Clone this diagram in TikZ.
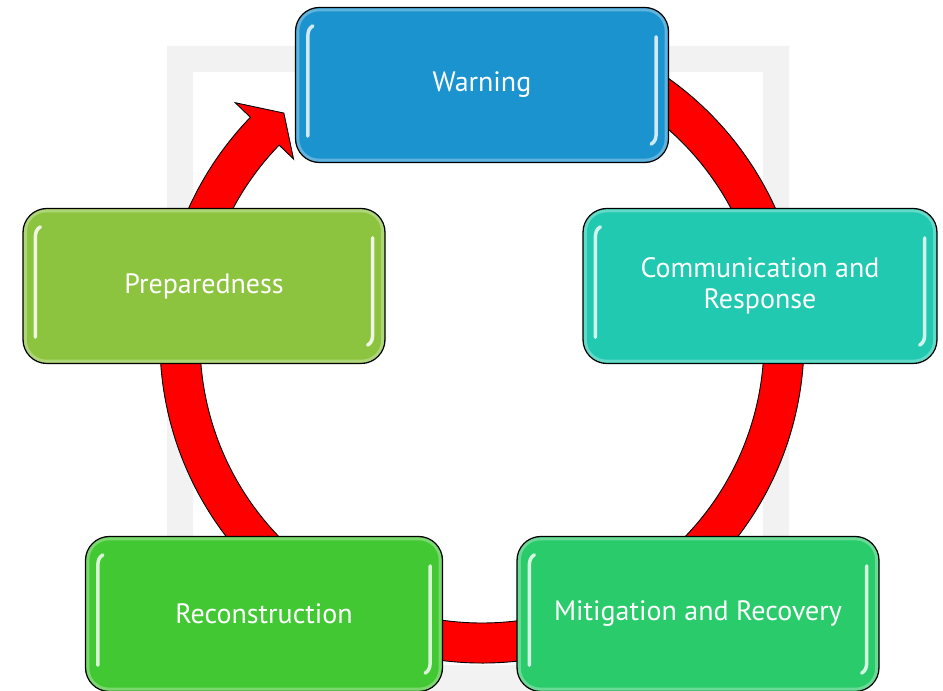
\documentclass[tikz,border=0pt]{standalone}
\usepackage{fontspec}
\setmainfont{PT Sans}

\definecolor{warnblue}{HTML}{1A93CF}
\definecolor{commteal}{HTML}{20C9B0}
\definecolor{prepgreen}{HTML}{8CC43F}
\definecolor{recgreen}{HTML}{41C832}
\definecolor{mitgreen}{HTML}{2ACB6A}
\definecolor{framegray}{HTML}{F2F2F2}
\definecolor{ringred}{HTML}{FF0000}

\tikzset{
  stagebox/.style 2 args={draw=black, line width=1.3pt, rounded corners=24pt,
    fill=#1, minimum width=#2, minimum height=155pt, inner sep=0pt,
    text=white, align=center, font=\fontsize{28}{31}\selectfont},
  gloss/.style={line width=3.5pt, line cap=round}
}

\begin{document}
\begin{tikzpicture}[x=1pt,y=1pt]
    % canvas
      \useasboundingbox (0,0) rectangle (943,691);

    % centre and radii of the ring
      \def\xc{482}
      \def\yc{350}
      \def\rout{322}
      \def\rin{282}
      \def\rmid{302}

      \newcommand{\glossbox}[2]{%
        \draw[white, opacity=0.3, line width=3pt, rounded corners=21pt]
          ([xshift=3pt,yshift=3pt]#1.south west) rectangle ([xshift=-3pt,yshift=-3pt]#1.north east);
        \draw[gloss, #2] ([xshift=13pt,yshift=27pt]#1.south west)
          -- ([xshift=13pt,yshift=-30pt]#1.north west)
          to[out=90,in=210] ([xshift=18pt,yshift=-19pt]#1.north west);
        \draw[gloss, #2] ([xshift=-13pt,yshift=-30pt]#1.north east)
          -- ([xshift=-13pt,yshift=30pt]#1.south east)
          to[out=-90,in=30] ([xshift=-18pt,yshift=19pt]#1.south east);
      }

    % Draw the grey frame
      \fill[framegray, even odd rule] (167,0) rectangle (789,645)
        (193,26) rectangle (763,619);

    % Draw the ring with its head
      \begin{scope}[shift={(\xc,\yc)}]
        \filldraw[fill=ringred, draw=black, line width=0.9pt]
          (80:\rout) arc[start angle=80, end angle=-224, radius=\rout]
          -- (-224:343) -- (-229:\rmid) -- (-224:262)
          -- (-224:\rin) arc[start angle=-224, end angle=80, radius=\rin]
          -- cycle;
      \end{scope}

    % Draw the stages
      \node[stagebox={warnblue}{373pt}]  (warn) at (482,606) {Warning};
      \node[stagebox={commteal}{354pt}]  (comm) at (760,405) {Communication and\\Response};
      \node[stagebox={prepgreen}{362pt}] (prep) at (204,405) {Preparedness};
      \node[stagebox={recgreen}{357pt}]  (rec)  at (264,77)  {Reconstruction};
      \node[stagebox={mitgreen}{362pt}]  (mit)  at (698,77)  {Mitigation and Recovery};

    % Draw the highlights
      \glossbox{warn}{warnblue!20!white}
      \glossbox{comm}{commteal!20!white}
      \glossbox{prep}{prepgreen!15!white}
      \glossbox{rec}{recgreen!20!white}
      \glossbox{mit}{mitgreen!20!white}

\end{tikzpicture}
\end{document}
